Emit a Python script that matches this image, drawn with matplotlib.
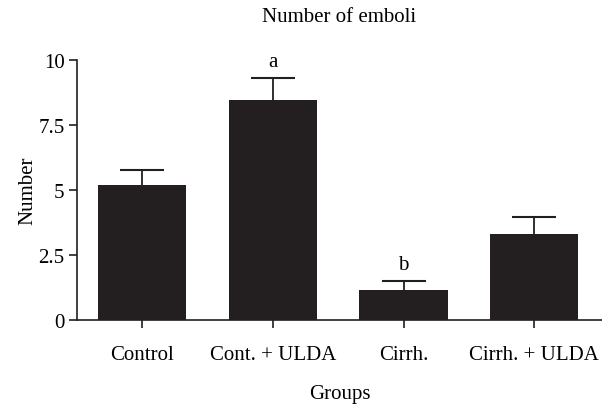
import matplotlib
matplotlib.use("Agg")
import matplotlib.pyplot as plt

groups = ["Control", "Cont. + ULDA", "Cirrh.", "Cirrh. + ULDA"]
means = [5.19, 8.47, 1.17, 3.31]
errors = [0.58, 0.84, 0.34, 0.64]
marks = ["", "a", "b", ""]
y_ticks = [0, 2.5, 5, 7.5, 10]
y_tick_labels = ["0", "2.5", "5", "7.5", "10"]

plt.rcParams["font.family"] = ["Liberation Serif", "DejaVu Serif"]
fs = 15

fig = plt.figure(figsize=(6.02, 4.06), dpi=100)
ax = fig.add_axes([0.128, 0.209, 0.872, 0.641])

bar_color = "#231f20"
x = range(len(groups))
ax.bar(x, means, width=0.675, color=bar_color, edgecolor=bar_color,
       linewidth=0, zorder=3)
# symmetric bars, the lower half sits behind the bar
ax.errorbar(x, means, yerr=errors, fmt="none", ecolor=bar_color,
            elinewidth=1.3, capsize=15.5, capthick=1.5, zorder=2)

# significance letters above the error bars
for i, (m, e, s) in enumerate(zip(means, errors, marks)):
    if s:
        ax.text(i, m + e + 0.25, s, ha="center", va="bottom", fontsize=fs)

ax.set_xlim(-0.5, 3.52)
ax.set_ylim(0, 10)
ax.set_xticks(list(x))
ax.set_xticklabels(groups, fontsize=fs)
ax.set_yticks(y_ticks)
ax.set_yticklabels(y_tick_labels, fontsize=fs)
ax.tick_params(direction="out", length=6, width=1.2, color=bar_color)
ax.tick_params(axis="x", pad=12)
ax.tick_params(axis="y", pad=3)

for side in ["top", "right"]:
    ax.spines[side].set_visible(False)
for side in ["left", "bottom"]:
    ax.spines[side].set_linewidth(1.2)
    ax.spines[side].set_color(bar_color)

ax.set_xlabel("Groups", fontsize=fs, labelpad=14)
ax.set_ylabel("Number", fontsize=fs, labelpad=1)
fig.text(0.5 + 0.064, 1 - 18 / 406, "Number of emboli", ha="center", va="center", fontsize=fs)

fig.savefig("out.png", dpi=100)
